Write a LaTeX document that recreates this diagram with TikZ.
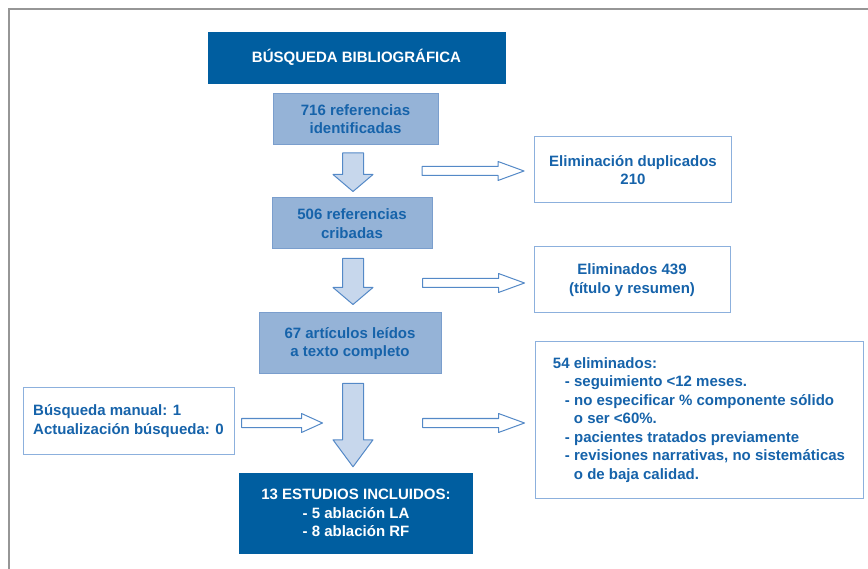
\documentclass[tikz,border=0pt]{standalone}
\usepackage{fontspec}
\setmainfont{Liberation Sans}
\usetikzlibrary{calc}
\definecolor{darkblue}{RGB}{0,94,160}
\definecolor{txtblue}{RGB}{22,99,170}
\definecolor{lightblue}{RGB}{149,179,215}
\definecolor{lightedge}{RGB}{122,158,205}
\definecolor{arrowfill}{RGB}{199,215,236}
\definecolor{arrowedge}{RGB}{84,137,199}
\definecolor{boxedge}{RGB}{140,176,221}
\definecolor{framegray}{RGB}{150,150,150}
\begin{document}
\begin{tikzpicture}[x=1pt, y=-1pt,
  every node/.style={font=\fontsize{15}{18.5}\selectfont\bfseries, inner sep=0pt},
  darkbox/.style={fill=darkblue, draw=darkblue, text=white, align=center},
  stepbox/.style={fill=lightblue, draw=lightedge, line width=1pt, text=txtblue, align=center},
  outbox/.style={fill=white, draw=boxedge, line width=1pt, text=txtblue},
  fatdown/.style={draw=arrowedge, fill=arrowfill, line width=1pt, line join=round,
    to path={-- ($(\tikztostart)+(-10.5,0)$) -- ($(\tikztotarget)+(-10.5,-#1)$) -- ($(\tikztotarget)+(-20,-#1)$)
      -- (\tikztotarget) -- ($(\tikztotarget)+(20,-#1)$) -- ($(\tikztotarget)+(10.5,-#1)$) -- ($(\tikztostart)+(10.5,0)$) -- cycle}},
  fatright/.style={draw=arrowedge, fill=white, line width=1pt, line join=round,
    to path={-- ($(\tikztostart)+(0,-4.5)$) -- ($(\tikztotarget)+(-#1,-4.5)$) -- ($(\tikztotarget)+(-#1,-9.5)$)
      -- (\tikztotarget) -- ($(\tikztotarget)+(-#1,9.5)$) -- ($(\tikztotarget)+(-#1,4.5)$) -- ($(\tikztostart)+(0,4.5)$) -- cycle}}]
\useasboundingbox (0,0) rectangle (868,569);
\draw[framegray, line width=1.5pt] (9,569) -- (9,9) -- (868,9);
\node[darkbox, minimum width=297, minimum height=51] (busq) at (356.5,57.5) {BÚSQUEDA BIBLIOGRÁFICA};
\node[stepbox, minimum width=165, minimum height=51] (ref716) at (355.5,119) {716 referencias\\identificadas};
\node[stepbox, minimum width=160, minimum height=51] (ref506) at (352,223.5) {506 referencias\\cribadas};
\node[stepbox, minimum width=182, minimum height=61] (art67) at (350,343.5) {67 artículos leídos\\a texto completo};
\node[darkbox, minimum width=233, minimum height=80] (incl) at (356,513) {13 ESTUDIOS INCLUIDOS:\\- 5 ablación LA\\- 8 ablación RF};
\node[outbox, align=center, minimum width=197, minimum height=66] (dupl) at (633,170) {Eliminación duplicados\\210};
\node[outbox, align=center, minimum width=196, minimum height=66] (titulo) at (632,280) {Eliminados 439\\(título y resumen)};
\node[outbox, align=left, minimum width=328, minimum height=156] (texto) at (699,420) {54 eliminados:\\
  \hspace*{12pt}- seguimiento <12 meses.\\
  \hspace*{12pt}- no especificar \% componente sólido\\
  \hspace*{21pt}o ser <60\%.\\
  \hspace*{12pt}- pacientes tratados previamente\\
  \hspace*{12pt}- revisiones narrativas, no sistemáticas\\
  \hspace*{21pt}o de baja calidad.};
\node[outbox, align=left, minimum width=211, minimum height=66] (manual) at (128.5,421) {Búsqueda manual: 1\\Actualización búsqueda: 0};
\coordinate (d1a) at ($(ref506.north |- ref716.south)+(1,8)$);
\coordinate (d1b) at ($(ref506.north)+(1,-6)$);
\coordinate (d2a) at ($(art67.north |- ref506.south)+(3,9)$);
\coordinate (d2b) at ($(art67.north)+(3,-8)$);
\coordinate (d3a) at ($(incl.north |- art67.south)+(-3,9)$);
\coordinate (d3b) at ($(incl.north)+(-3,-6)$);
\draw[fatdown=17] (d1a) to (d1b);
\draw[fatdown=17] (d2a) to (d2b);
\draw[fatdown=27] (d3a) to (d3b);
\coordinate (r1a) at ($(dupl.west)+(-112,1)$);
\coordinate (r1b) at ($(dupl.west)+(-10,1)$);
\coordinate (r2a) at ($(titulo.west)+(-111,3)$);
\coordinate (r2b) at ($(titulo.west)+(-9,3)$);
\coordinate (r3a) at ($(texto.west)+(-112,3)$);
\coordinate (r3b) at ($(texto.west)+(-10,3)$);
\coordinate (l1a) at ($(manual.east)+(7,2)$);
\coordinate (l1b) at ($(manual.east)+(88,2)$);
\draw[fatright=26] (r1a) to (r1b);
\draw[fatright=26] (r2a) to (r2b);
\draw[fatright=26] (r3a) to (r3b);
\draw[fatright=21] (l1a) to (l1b);
\end{tikzpicture}
\end{document}
